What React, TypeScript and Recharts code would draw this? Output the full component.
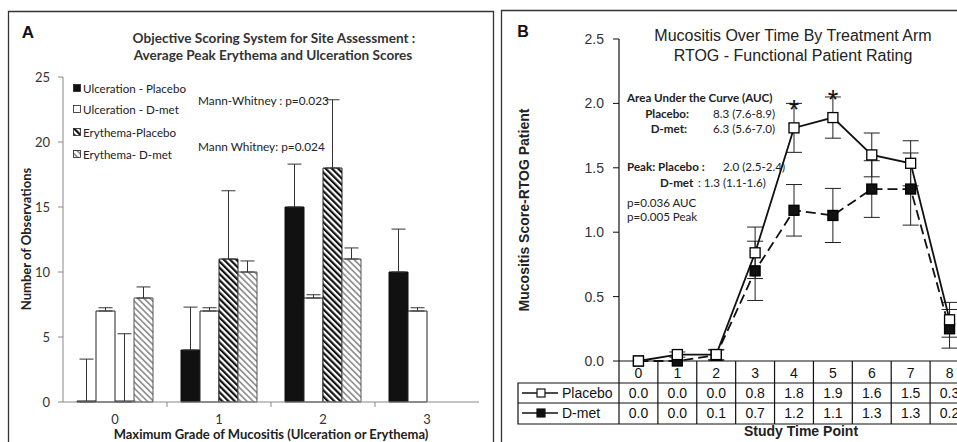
import React from "react";
import { BarChart, Bar, XAxis, YAxis, ErrorBar, ComposedChart, Line, LabelList } from "recharts";

// Panel A: peak erythema / ulceration counts by grade
const grades = ["0", "1", "2", "3"];
const ulcerPlacebo = [0, 4, 15, 10];
const ulcerPlaceboErr = [3.3, 3.3, 3.3, 3.3];
const ulcerDmet = [7, 7, 8, 7];
const ulcerDmetErr = [0.25, 0.25, 0.25, 0.25];
const erythPlacebo = [0, 11, 18, null];
const erythPlaceboErr = [5.25, 5.25, 5.25, null];
const erythDmet = [8, 10, 11, null];
const erythDmetErr = [0.85, 0.85, 0.85, null];
const countTicks = [0, 5, 10, 15, 20, 25];

// Panel B: RTOG score over time
const timePoints = ["0", "1", "2", "3", "4", "5", "6", "7", "8"];
const placeboMean = [0, 0.05, 0.05, 0.84, 1.81, 1.89, 1.6, 1.535, 0.32];
const placeboSem = [null, 0.02, 0.04, 0.2, 0.19, 0.16, 0.17, 0.175, 0.135];
const dmetMean = [0, 0, 0.045, 0.7, 1.17, 1.13, 1.335, 1.335, 0.25];
const dmetSem = [null, null, 0.04, 0.23, 0.2, 0.21, 0.22, 0.28, 0.15];
const placeboTable = ["0.0", "0.0", "0.0", "0.8", "1.8", "1.9", "1.6", "1.5", "0.3"];
const dmetTable = ["0.0", "0.0", "0.1", "0.7", "1.2", "1.1", "1.3", "1.3", "0.2"];
const significance = ["", "", "", "", "*", "*", "", "", ""];
const scoreTicks = [0, 0.5, 1, 1.5, 2, 2.5];

const barData = grades.map((g, i) => ({
  grade: g,
  ulcP: ulcerPlacebo[i],
  ulcPErr: [0, ulcerPlaceboErr[i]],
  ulcD: ulcerDmet[i],
  ulcDErr: [0, ulcerDmetErr[i]],
  eryP: erythPlacebo[i],
  eryPErr: erythPlaceboErr[i] == null ? null : [0, erythPlaceboErr[i]],
  eryD: erythDmet[i],
  eryDErr: erythDmetErr[i] == null ? null : [0, erythDmetErr[i]],
}));

const lineData = timePoints.map((t, i) => ({
  t,
  placebo: placeboMean[i],
  placeboErr: placeboSem[i],
  dmet: dmetMean[i],
  dmetErr: dmetSem[i],
  pTab: placeboTable[i],
  dTab: dmetTable[i],
  sig: significance[i],
}));

const CAL = "Lato, 'Open Sans', sans-serif";
const ARIAL = "'Liberation Sans', Arial, sans-serif";
const HALF_COL = 19.44;

const GradeTick = (props: any) => {
  const { x, y, payload, index } = props;
  return (
    <g>
      <text x={x} y={y + 22} textAnchor="middle" fontSize={13} fontFamily={CAL} fill="#333">
        {payload.value}
      </text>
      {index < grades.length - 1 && <line x1={x + 52} x2={x + 52} y1={y} y2={y + 5} stroke="#888" />}
    </g>
  );
};

const TableTick = (props: any) => {
  const { x, y, payload, index } = props;
  const row = lineData[index];
  const l = x - HALF_COL;
  const r = x + HALF_COL;
  return (
    <g stroke="#111" strokeWidth={1.2}>
      {index === 0 && <line x1={l} x2={l} y1={y} y2={y + 63} />}
      <line x1={r} x2={r} y1={y} y2={y + 63} />
      <line x1={l} x2={r} y1={y + 22} y2={y + 22} />
      <line x1={l} x2={r} y1={y + 42} y2={y + 42} />
      <line x1={l} x2={r} y1={y + 63} y2={y + 63} />
      <g stroke="none" fill="#111" fontFamily={ARIAL} fontSize={14} textAnchor="middle">
        <text x={x} y={y + 17}>{payload.value}</text>
        <text x={x} y={y + 37}>{row.pTab}</text>
        <text x={x} y={y + 57}>{row.dTab}</text>
      </g>
    </g>
  );
};

const squareDot = (fill: string) => (p: any) => (
  <rect key={`d${fill}${p.index}`} x={p.cx - 5} y={p.cy - 5} width={10} height={10} fill={fill} stroke="#000" strokeWidth={1.3} />
);

const StarLabel = (p: any) => {
  if (!p.value) return null;
  return (
    <text x={p.x} y={p.y - 9} textAnchor="middle" fontSize={27} fontFamily={ARIAL} fill="#111">
      {p.value}
    </text>
  );
};

const Patterns = ({ suffix }: { suffix: string }) => (
  <defs>
    <pattern id={`dark${suffix}`} width="4.4" height="4.4" patternUnits="userSpaceOnUse" patternTransform="rotate(-45)">
      <rect width="4.4" height="4.4" fill="#fff" />
      <rect width="2.2" height="4.4" fill="#111" />
    </pattern>
    <pattern id={`light${suffix}`} width="4.4" height="4.4" patternUnits="userSpaceOnUse" patternTransform="rotate(-45)">
      <rect width="4.4" height="4.4" fill="#fff" />
      <rect width="1.6" height="4.4" fill="#8a8a8a" />
    </pattern>
  </defs>
);

function Overlay() {
  const legend = [
    { label: "Ulceration - Placebo", fill: "#111" },
    { label: "Ulceration - D-met", fill: "#fff" },
    { label: "Erythema-Placebo", fill: "url(#darkL)" },
    { label: "Erythema- D-met", fill: "url(#lightL)" },
  ];
  const legendY = [88, 109, 132, 154];
  return (
    <svg width={957} height={442} style={{ position: "absolute", left: 0, top: 0, pointerEvents: "none" }}>
      <Patterns suffix="L" />
      {/* panel frames */}
      <path d="M8.5 446 V11.5 H493.5 V446" fill="none" stroke="#333" strokeWidth={1.3} />
      <path d="M501.5 446 V10.5 H960" fill="none" stroke="#333" strokeWidth={1.3} />

      {/* panel A texts */}
      <text x={28} y={32} dominantBaseline="central" textAnchor="middle" fontFamily={ARIAL} fontWeight="bold" fontSize={17} fill="#111">A</text>
      <g fontFamily={CAL} fontWeight="bold" fontSize={13.6} fill="#333" textAnchor="middle" dominantBaseline="central">
        <text x={274} y={38}>Objective Scoring System for Site Assessment :</text>
        <text x={273} y={55}>Average Peak Erythema and Ulceration Scores</text>
      </g>
      {legend.map((it, i) => (
        <g key={it.label}>
          <rect x={73.5} y={legendY[i] - 3.5} width={7} height={7} fill={it.fill} stroke="#222" strokeWidth={0.8} />
          <text x={83} y={legendY[i]} dominantBaseline="central" fontFamily={CAL} fontSize={11.6} fill="#222">{it.label}</text>
        </g>
      ))}
      <g fontFamily={CAL} fontSize={11.8} fill="#222" dominantBaseline="central">
        <text x={198} y={100}>Mann-Whitney : p=0.023</text>
        <text x={198} y={146}>Mann Whitney: p=0.024</text>
      </g>
      <text x={26} y={239} transform="rotate(-90 26 239)" textAnchor="middle" dominantBaseline="central" fontFamily={CAL} fontWeight="bold" fontSize={13} fill="#222">Number of Observations</text>
      <text x={271} y={434} textAnchor="middle" dominantBaseline="central" fontFamily={CAL} fontWeight="bold" fontSize={13} fill="#222">Maximum Grade of Mucositis (Ulceration or Erythema)</text>

      {/* panel B texts */}
      <text x={523} y={31} dominantBaseline="central" textAnchor="middle" fontFamily={ARIAL} fontWeight="bold" fontSize={16} fill="#111">B</text>
      <g fontFamily={ARIAL} fontSize={16} fill="#222" textAnchor="middle" dominantBaseline="central">
        <text x={793} y={35}>Mucositis Over Time By Treatment Arm</text>
        <text x={793} y={55}>RTOG - Functional Patient Rating</text>
      </g>
      <g fontFamily={CAL} fontSize={11.6} fill="#222" dominantBaseline="central">
        <text x={627} y={97} fontWeight="bold">Area Under the Curve (AUC)</text>
        <text x={689} y={113} fontWeight="bold" textAnchor="end">Placebo:</text>
        <text x={713} y={113}>8.3 (7.6-8.9)</text>
        <text x={687} y={128} fontWeight="bold" textAnchor="end">D-met:</text>
        <text x={713} y={128}>6.3 (5.6-7.0)</text>
        <text x={627} y={166} fontWeight="bold">Peak: Placebo :</text>
        <text x={723} y={166}>2.0 (2.5-2.4)</text>
        <text x={660} y={182} fontWeight="bold">D-met</text>
        <text x={698} y={182}>: 1.3 (1.1-1.6)</text>
        <text x={627} y={202}>p=0.036 AUC</text>
        <text x={627} y={216}>p=0.005 Peak</text>
      </g>
      <text x={524} y={210} transform="rotate(-90 524 210)" textAnchor="middle" dominantBaseline="central" fontFamily={ARIAL} fontWeight="bold" fontSize={14} fill="#222">Mucositis Score-RTOG Patient</text>
      <text x={801} y={431} textAnchor="middle" dominantBaseline="central" fontFamily={ARIAL} fontWeight="bold" fontSize={14} fill="#222">Study Time Point</text>

      {/* table row labels */}
      <g stroke="#111" strokeWidth={1.2} fill="none">
        <path d="M619 383 H518 V424 H619" />
        <line x1={518} x2={619} y1={403} y2={403} />
        <line x1={522} x2={558} y1={393} y2={393} strokeWidth={1.5} />
        <line x1={522} x2={558} y1={413} y2={413} strokeWidth={1.5} />
      </g>
      <rect x={537} y={389} width={8} height={8} fill="#fff" stroke="#111" strokeWidth={1.2} />
      <rect x={537} y={409} width={8} height={8} fill="#111" stroke="#111" strokeWidth={1.2} />
      <g fontFamily={ARIAL} fontSize={14} fill="#111" dominantBaseline="central">
        <text x={562} y={393}>Placebo</text>
        <text x={562} y={413}>D-met</text>
      </g>
    </svg>
  );
}

export default function App() {
  return (
    <div style={{ position: "absolute", left: 0, top: 0, width: 957, height: 442, overflow: "hidden", background: "#fff" }}>
      <div style={{ position: "absolute", left: 0, top: 0 }}>
        <BarChart width={480} height={442} data={barData} margin={{ top: 77, right: 1, bottom: 10, left: 23 }} barCategoryGap={14} barGap={0}>
          <Patterns suffix="" />
          <XAxis dataKey="grade" height={30} axisLine={{ stroke: "#888" }} tickLine={false} tickSize={0} tickMargin={0} interval={0} tick={(p: any) => <GradeTick {...p} />} />
          <YAxis width={40} domain={[0, 25]} ticks={countTicks} interval={0} axisLine={{ stroke: "#888" }} tickLine={{ stroke: "#888" }} tickSize={5} tickMargin={8} tick={{ fontSize: 13, fontFamily: CAL, fill: "#333" }} />
          <Bar dataKey="ulcP" fill="#111" stroke="#111" minPointSize={1} isAnimationActive={false}>
            <ErrorBar dataKey="ulcPErr" direction="y" width={7} stroke="#333" strokeWidth={1} />
          </Bar>
          <Bar dataKey="ulcD" fill="#fff" stroke="#222" isAnimationActive={false}>
            <ErrorBar dataKey="ulcDErr" direction="y" width={7} stroke="#333" strokeWidth={1} />
          </Bar>
          <Bar dataKey="eryP" fill="url(#dark)" stroke="#222" minPointSize={1} isAnimationActive={false}>
            <ErrorBar dataKey="eryPErr" direction="y" width={7} stroke="#333" strokeWidth={1} />
          </Bar>
          <Bar dataKey="eryD" fill="url(#light)" stroke="#555" isAnimationActive={false}>
            <ErrorBar dataKey="eryDErr" direction="y" width={7} stroke="#333" strokeWidth={1} />
          </Bar>
        </BarChart>
      </div>
      <div style={{ position: "absolute", left: 500, top: 0 }}>
        <ComposedChart width={470} height={442} data={lineData} margin={{ top: 39, right: 1, bottom: 11, left: 59 }}>
          <XAxis dataKey="t" height={70} padding={{ left: HALF_COL, right: HALF_COL }} axisLine={{ stroke: "#111", strokeWidth: 1.2 }} tickLine={false} tickSize={0} tickMargin={0} interval={0} tick={(p: any) => <TableTick {...p} />} />
          <YAxis width={60} domain={[0, 2.5]} ticks={scoreTicks} interval={0} tickFormatter={(v: number) => v.toFixed(1)} axisLine={{ stroke: "#111", strokeWidth: 1.2 }} tickLine={{ stroke: "#111" }} tickSize={6} tickMargin={9} tick={{ fontSize: 14, fontFamily: ARIAL, fill: "#333" }} />
          <Line dataKey="dmet" stroke="#111" strokeWidth={1.8} strokeDasharray="10 5" dot={squareDot("#111")} activeDot={false} isAnimationActive={false}>
            <ErrorBar dataKey="dmetErr" direction="y" width={8} stroke="#222" strokeWidth={1} />
          </Line>
          <Line dataKey="placebo" stroke="#111" strokeWidth={1.8} dot={squareDot("#fff")} activeDot={false} isAnimationActive={false}>
            <ErrorBar dataKey="placeboErr" direction="y" width={8} stroke="#222" strokeWidth={1} />
            <LabelList dataKey="sig" content={StarLabel} />
          </Line>
        </ComposedChart>
      </div>
      <Overlay />
    </div>
  );
}
